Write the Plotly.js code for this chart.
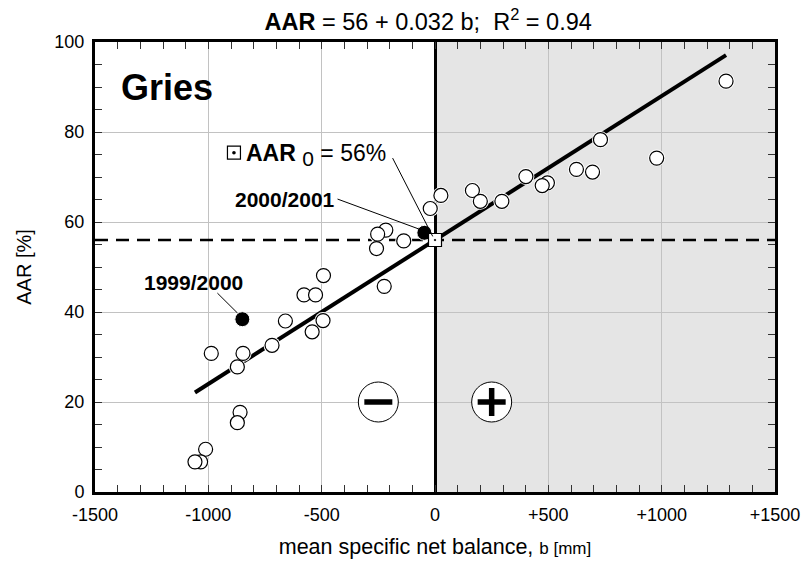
<!DOCTYPE html>
<html>
<head>
<meta charset="utf-8">
<script src="https://cdn.plot.ly/plotly-3.0.1.min.js"></script>
<style>html,body{margin:0;padding:0;background:#fff;}</style>
</head>
<body>
<div id="chart" style="width:802px;height:569px;"></div>
<script>
// ---- data ----
const balanceOpen = [1284, 730, 978, 624, 695, 401, 496, 473, 165, 200, 295, 26, -21,
  -217, -253, -258, -138, -492, -578, -527, -224, -660, -494, -542, -719,
  -987, -847, -872, -860, -872, -1012, -1034, -1059];
const aarOpen = [91.3, 78.3, 74.2, 71.7, 71.1, 70.1, 68.7, 68.1, 67.0, 64.6, 64.6, 65.9, 63.0,
  58.2, 57.3, 54.1, 55.8, 48.1, 43.8, 43.8, 45.7, 38.0, 38.1, 35.6, 32.6,
  30.8, 30.8, 27.8, 17.7, 15.4, 9.5, 6.7, 6.7];
const highlightYears = ['1999/2000', '2000/2001'];
const balanceHighlight = [-850, -47];
const aarHighlight = [38.4, 57.6];

const intercept = 56;      // AAR0 [%]
const slope = 0.032;
const r2 = 0.94;
const aar0 = intercept;

const xRange = [-1500, 1500];
const yRange = [0, 100];
const xTickVals = [-1500, -1000, -500, 0, 500, 1000, 1500];
const xTickText = ['-1500', '-1000', '-500', '0', '+500', '+1000', '+1500'];
const yTickVals = [0, 20, 40, 60, 80, 100];
const yTickText = ['0', '20', '40', '60', '80', '100'];

const signX = [-250, 250];
const signY = [20, 20];

// ---- derived ----
const allB = balanceOpen.concat(balanceHighlight);
const bMin = Math.min(...allB), bMax = Math.max(...allB);
const fitX = [bMin, bMax];
const fitY = fitX.map(b => intercept + slope * b);

const FONT = 'Liberation Sans, Arial, Helvetica, sans-serif';

const traces = [
  { x: xRange, y: [aar0, aar0], mode: 'lines', hoverinfo: 'skip',
    line: { color: '#000', width: 2.5, dash: '13px,8px' } },
  { x: fitX, y: fitY, mode: 'lines', hoverinfo: 'skip',
    line: { color: '#000', width: 4 } },
  // white halo
  { x: balanceOpen, y: aarOpen, mode: 'markers', hoverinfo: 'skip',
    marker: { symbol: 'circle', size: 17, color: '#fff', line: { width: 0 } } },
  { x: balanceOpen, y: aarOpen, mode: 'markers',
    marker: { symbol: 'circle', size: 14, color: '#fff', line: { color: '#000', width: 1.2 } } },
  { x: balanceHighlight, y: aarHighlight, mode: 'markers', text: highlightYears,
    marker: { symbol: 'circle', size: 15, color: '#000', line: { color: '#fff', width: 1 } } },
  { x: [0], y: [aar0], mode: 'markers',
    marker: { symbol: 'square-dot', size: 13, color: '#fff', line: { color: '#000', width: 1.2 } } },
  // sign circles
  { x: signX, y: signY, mode: 'markers', hoverinfo: 'skip',
    marker: { symbol: 'circle', size: 40, color: '#fff', line: { color: '#000', width: 1 } } },
  { x: [signX[0]], y: [signY[0]], mode: 'markers', hoverinfo: 'skip',
    marker: { symbol: 'line-ew', size: 20, line: { color: '#000', width: 5.5 } } },
  { x: [signX[1]], y: [signY[1]], mode: 'markers', hoverinfo: 'skip',
    marker: { symbol: 'cross-thin', size: 20, line: { color: '#000', width: 5.5 } } }
];

const axisCommon = {
  ticks: 'inside', ticklen: 7, tickwidth: 1, tickcolor: '#333',
  showgrid: true, gridcolor: '#c2c2c2', gridwidth: 1,
  showline: true, linecolor: '#000', linewidth: 3, mirror: 'allticks',
  tickfont: { size: 18, family: FONT, color: '#000' },
  fixedrange: true, automargin: false
};

const layout = {
  width: 802, height: 569,
  margin: { l: 95, r: 27, t: 42, b: 77 },
  paper_bgcolor: '#fff', plot_bgcolor: '#fff',
  font: { family: FONT, size: 18, color: '#000' },
  showlegend: false,
  title: {
    text: '<b>AAR</b> = ' + intercept + ' + ' + slope + ' b;&nbsp; R<sup>2</sup> = ' + r2,
    font: { size: 23.5, family: FONT, color: '#000' },
    x: 0.49, xref: 'paper', xanchor: 'center',
    y: 1 - 22 / 569, yref: 'container', yanchor: 'middle'
  },
  xaxis: Object.assign({}, axisCommon, {
    range: xRange, tickmode: 'array', tickvals: xTickVals, ticktext: xTickText,
    zeroline: true, zerolinecolor: '#000', zerolinewidth: 3,
    ticklabelstandoff: 4,
    minor: { tickmode: 'linear', tick0: 0, dtick: 100, ticks: 'inside', ticklen: 7,
             tickwidth: 1, tickcolor: '#333', showgrid: false },
    title: { text: 'mean specific net balance, <span style="font-size:17px">b [mm]</span>',
             font: { size: 21.5, family: FONT, color: '#000' }, standoff: 16 }
  }),
  yaxis: Object.assign({}, axisCommon, {
    range: yRange, tickmode: 'array', tickvals: yTickVals, ticktext: yTickText,
    zeroline: false, ticklabelstandoff: 4,
    minor: { tickmode: 'linear', tick0: 0, dtick: 5, ticks: 'inside', ticklen: 7,
             tickwidth: 1, tickcolor: '#333', showgrid: false },
    title: { text: 'AAR [%]', font: { size: 20, family: FONT, color: '#000' }, standoff: 18 }
  }),
  shapes: [
    { type: 'rect', xref: 'x', yref: 'y', x0: 0, x1: xRange[1], y0: yRange[0], y1: yRange[1],
      fillcolor: '#e5e5e5', line: { width: 0 }, layer: 'below' },
    // leader lines
    { type: 'line', xref: 'x', yref: 'y', x0: -187, y0: 74.2, x1: -10, y1: 56.8,
      line: { color: '#000', width: 1 } },
    { type: 'line', xref: 'x', yref: 'y', x0: -430, y0: 65.1, x1: -69, y1: 58.4,
      line: { color: '#000', width: 1 } },
    { type: 'line', xref: 'x', yref: 'y', x0: -960, y0: 44.2, x1: -872, y1: 39.8,
      line: { color: '#000', width: 1 } },
    // AAR0 icon
    { type: 'rect', xref: 'x', yref: 'y', xsizemode: 'pixel', ysizemode: 'pixel',
      xanchor: -887, yanchor: 75.4, x0: -6.5, x1: 6.5, y0: -6.5, y1: 6.5,
      fillcolor: '#fff', line: { color: '#000', width: 1.2 }, layer: 'above' },
    { type: 'circle', xref: 'x', yref: 'y', xsizemode: 'pixel', ysizemode: 'pixel',
      xanchor: -887, yanchor: 75.4, x0: -1.8, x1: 1.8, y0: -1.8, y1: 1.8,
      fillcolor: '#000', line: { color: '#000', width: 0 }, layer: 'above' }
  ],
  annotations: [
    { text: '<b>Gries</b>', xref: 'paper', yref: 'paper', x: 0.036, y: 0.9,
      xanchor: 'left', yanchor: 'middle', showarrow: false,
      font: { size: 36, family: FONT, color: '#000' } },
    { text: '<b>AAR</b> <sub><span style="font-size:21px">0</span></sub> = 56%',
      xref: 'paper', yref: 'paper', x: 0.219, y: 0.75,
      xanchor: 'left', yanchor: 'middle', showarrow: false,
      font: { size: 23, family: FONT, color: '#000' } },
    { text: '<b>' + highlightYears[1] + '</b>', xref: 'paper', yref: 'paper', x: 0.203, y: 0.650,
      xanchor: 'left', yanchor: 'middle', showarrow: false,
      font: { size: 21, family: FONT, color: '#000' } },
    { text: '<b>' + highlightYears[0] + '</b>', xref: 'paper', yref: 'paper', x: 0.069, y: 0.466,
      xanchor: 'left', yanchor: 'middle', showarrow: false,
      font: { size: 21, family: FONT, color: '#000' } }
  ]
};

Plotly.newPlot('chart', traces, layout, { displayModeBar: false, staticPlot: true });
</script>
</body>
</html>
